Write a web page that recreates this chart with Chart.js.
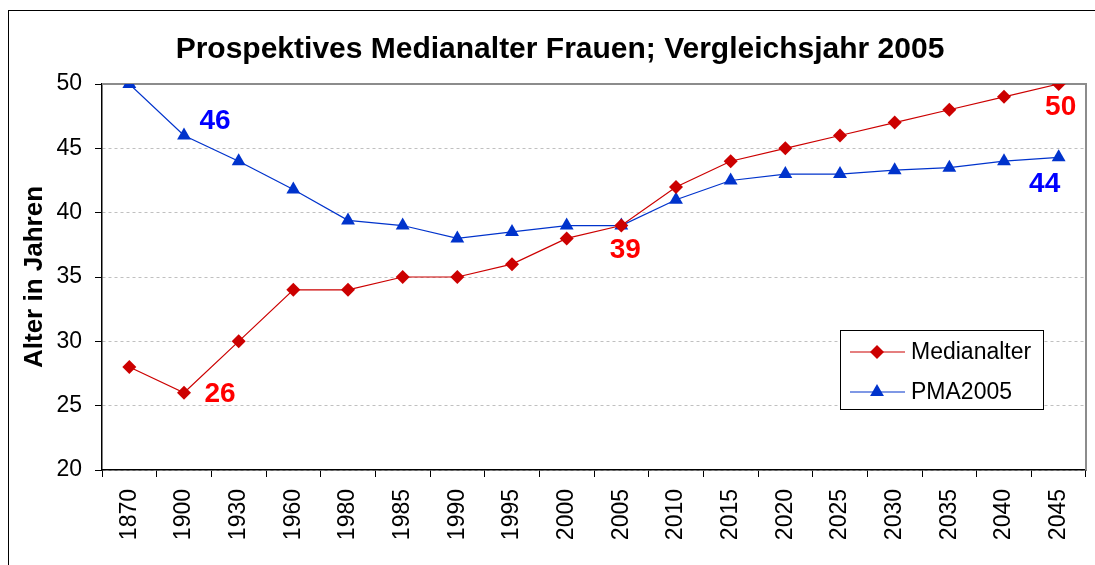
<!DOCTYPE html>
<html>
<head>
<meta charset="utf-8">
<script src="https://cdn.jsdelivr.net/npm/chart.js@4.4.0/dist/chart.umd.min.js"></script>
<style>
    html, body { margin: 0; padding: 0; background: #fff; }
    #wrap { position: relative; width: 1095px; height: 565px; overflow: hidden; }
    #rahmen { position: absolute; left: 8px; top: 10px; width: 1200px; height: 700px; border: 1px solid #000; box-sizing: border-box; pointer-events: none; }
    canvas { position: absolute; left: 0; top: 0; }
</style>
</head>
<body>
<div id="wrap">
    <canvas id="chartAlter" width="1095" height="565"></canvas>
    <div id="rahmen"></div>
</div>
<script>
const jahre = ['1870', '1900', '1930', '1960', '1980', '1985', '1990', '1995', '2000', '2005',
    '2010', '2015', '2020', '2025', '2030', '2035', '2040', '2045'];
const medianalter = [28, 26, 30, 34, 34, 35, 35, 36, 38, 39, 42, 44, 45, 46, 47, 48, 49, 50];
const pma2005 = [50, 46, 44, 41.8, 39.4, 39, 38, 38.5, 39, 39, 41, 42.5, 43, 43, 43.3, 43.5, 44, 44.3];
const yTicks = [20, 25, 30, 35, 40, 45, 50];

const FONT = '"Liberation Sans", Arial, sans-serif';

// Beschriftete Punkte: Datensatz, Index, Versatz der Zahl
const markierungen = [
    { ds: 1, idx: 1, dx: 31, dy: -14 },
    { ds: 0, idx: 1, dx: 36, dy: 1 },
    { ds: 0, idx: 9, dx: 4, dy: 25 },
    { ds: 0, idx: 17, dx: 2, dy: 23 },
    { ds: 1, idx: 17, dx: -14, dy: 27 }
];
const labelFarben = ['#ff0000', '#0000ff'];

const rahmenPlugin = {
    id: 'rahmen',
    beforeDatasetsDraw(chart) {
        const { ctx, chartArea: a } = chart;
        ctx.save();
        ctx.strokeStyle = '#8c8c8c';
        ctx.lineWidth = 2;
        ctx.beginPath();
        ctx.moveTo(a.left, a.top);
        ctx.lineTo(a.right, a.top);
        ctx.lineTo(a.right, a.bottom);
        ctx.stroke();
        ctx.restore();
    },
    afterDraw(chart) {
        const ctx = chart.ctx;
        ctx.save();
        // Titel
        ctx.fillStyle = '#000';
        ctx.font = 'bold 30px ' + FONT;
        ctx.textAlign = 'center';
        ctx.textBaseline = 'middle';
        ctx.fillText('Prospektives Medianalter Frauen; Vergleichsjahr 2005', 560, 50);

        // Zahlen an den Punkten
        ctx.font = 'bold 28px ' + FONT;
        markierungen.forEach(m => {
            const pt = chart.getDatasetMeta(m.ds).data[m.idx];
            const wert = chart.data.datasets[m.ds].data[m.idx];
            ctx.fillStyle = labelFarben[m.ds];
            ctx.fillText(Math.round(wert), pt.x + m.dx, pt.y + m.dy);
        });

        // Legende
        const lx = 840, ly = 330, lw = 203, lh = 79;
        ctx.fillStyle = '#fff';
        ctx.fillRect(lx, ly, lw, lh);
        ctx.strokeStyle = '#000';
        ctx.lineWidth = 1;
        ctx.strokeRect(lx + 0.5, ly + 0.5, lw, lh);
        ctx.font = '23px ' + FONT;
        ctx.textAlign = 'left';
        chart.data.datasets.forEach((ds, i) => {
            const y = ly + 22 + i * 40;
            ctx.strokeStyle = ds.borderColor;
            ctx.lineWidth = 1.2;
            ctx.beginPath();
            ctx.moveTo(lx + 10, y);
            ctx.lineTo(lx + 65, y);
            ctx.stroke();
            ctx.fillStyle = ds.pointBackgroundColor;
            Chart.helpers.drawPoint(ctx, {
                pointStyle: ds.pointStyle,
                radius: ds.pointRadius,
                borderWidth: 0
            }, lx + 37, y);
            ctx.fillStyle = '#000';
            ctx.fillText(ds.label, lx + 71, y + 1);
        });
        ctx.restore();
    }
};

const chartAlter = new Chart(
    document.getElementById('chartAlter').getContext('2d'),
    {
        type: 'line',
        data: {
            labels: jahre,
            datasets: [{
                label: 'Medianalter',
                data: medianalter,
                borderColor: '#cc0000',
                borderWidth: 1.2,
                pointStyle: 'rectRot',
                pointRadius: 7,
                pointBackgroundColor: '#cc0000',
                pointBorderColor: '#cc0000',
                pointBorderWidth: 0,
                tension: 0
            }, {
                label: 'PMA2005',
                data: pma2005,
                borderColor: '#0033cc',
                borderWidth: 1.2,
                pointStyle: 'triangle',
                pointRadius: 8,
                pointBackgroundColor: '#0033cc',
                pointBorderColor: '#0033cc',
                pointBorderWidth: 0,
                tension: 0
            }]
        },
        options: {
            responsive: false,
            animation: false,
            layout: {
                padding: { left: 0, top: 84, right: 9, bottom: 0 }
            },
            plugins: {
                legend: { display: false },
                title: { display: false },
                tooltip: { enabled: false }
            },
            scales: {
                x: {
                    offset: true,
                    afterFit: (scale) => {
                        scale.height = 95;
                        scale.paddingLeft = 0;
                        scale.paddingRight = 0;
                    },
                    grid: {
                        offset: true,
                        drawOnChartArea: false,
                        tickColor: '#000',
                        tickLength: 7
                    },
                    border: { color: '#000', width: 1.5 },
                    ticks: {
                        color: '#000',
                        font: { family: FONT, size: 23 },
                        minRotation: 90,
                        maxRotation: 90,
                        padding: 12,
                        autoSkip: false
                    }
                },
                y: {
                    min: 20,
                    max: 50,
                    afterFit: (scale) => { scale.width = 102; },
                    afterBuildTicks: (scale) => {
                        scale.ticks = yTicks.map(v => ({ value: v }));
                    },
                    grid: {
                        color: '#c0c0c0',
                        tickColor: '#000',
                        tickLength: 7,
                        tickBorderDash: []
                    },
                    border: { color: '#000', width: 1.5, dash: [3, 3] },
                    ticks: {
                        color: '#000',
                        font: { family: FONT, size: 23 },
                        padding: 13
                    },
                    title: {
                        display: true,
                        text: 'Alter in Jahren',
                        color: '#000',
                        font: { family: FONT, size: 26, weight: 'bold' },
                        padding: { top: 19, bottom: 0 }
                    }
                }
            }
        },
        plugins: [rahmenPlugin]
    }
);
</script>
</body>
</html>
